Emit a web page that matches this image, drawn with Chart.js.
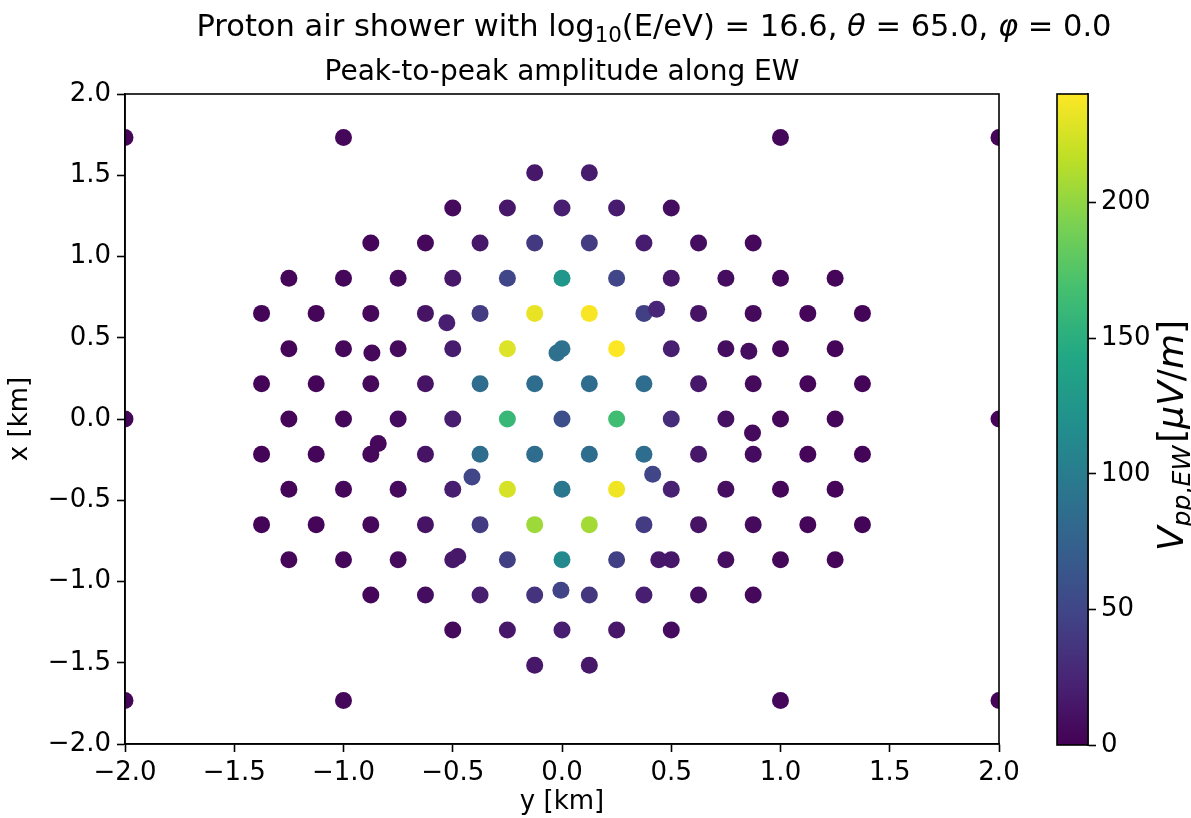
<!DOCTYPE html>
<html>
<head>
<meta charset="utf-8">
<script src="https://cdn.jsdelivr.net/npm/chart.js@4.4.1/dist/chart.umd.min.js"></script>
<style>
  html, body { margin: 0; padding: 0; background: #fff; }
  #wrap { position: relative; width: 1191px; height: 818px; }
  #wrap canvas { position: absolute; top: 0; }
</style>
</head>
<body>
<div id="wrap">
  <canvas id="showerChart" width="1191" height="818" style="left:0"></canvas>
  <canvas id="colorBar" width="151" height="818" style="left:1040px"></canvas>
</div>
<script>
// star-shaped hexagonal layout: one entry per row of antennas (x in km)
var rowX = [1.732, 1.516, 1.299, 1.083, 0.866, 0.650, 0.433, 0.217, 0,
            -0.217, -0.433, -0.650, -0.866, -1.083, -1.299, -1.516, -1.732];
// y positions (km) of the antennas in each row
var rowY = [
  [-2, -1, 1, 2],
  [-0.125, 0.125],
  [-0.5, -0.25, 0, 0.25, 0.5],
  [-0.875, -0.625, -0.375, -0.125, 0.125, 0.375, 0.625, 0.875],
  [-1.25, -1, -0.75, -0.5, -0.25, 0, 0.25, 0.5, 0.75, 1, 1.25],
  [-1.375, -1.125, -0.875, -0.625, -0.375, -0.125, 0.125, 0.375, 0.625, 0.875, 1.125, 1.375],
  [-1.25, -1, -0.75, -0.5, -0.25, 0, 0.25, 0.5, 0.75, 1, 1.25],
  [-1.375, -1.125, -0.875, -0.625, -0.375, -0.125, 0.125, 0.375, 0.625, 0.875, 1.125, 1.375],
  [-2, -1.25, -1, -0.75, -0.5, -0.25, 0, 0.25, 0.5, 0.75, 1, 1.25, 2],
  [-1.375, -1.125, -0.875, -0.625, -0.375, -0.125, 0.125, 0.375, 0.625, 0.875, 1.125, 1.375],
  [-1.25, -1, -0.75, -0.5, -0.25, 0, 0.25, 0.5, 0.75, 1, 1.25],
  [-1.375, -1.125, -0.875, -0.625, -0.375, -0.125, 0.125, 0.375, 0.625, 0.875, 1.125, 1.375],
  [-1.25, -1, -0.75, -0.5, -0.25, 0, 0.25, 0.5, 0.75, 1, 1.25],
  [-0.875, -0.625, -0.375, -0.125, 0.125, 0.375, 0.625, 0.875],
  [-0.5, -0.25, 0, 0.25, 0.5],
  [-0.125, 0.125],
  [-2, -1, 1, 2]
];
// peak-to-peak amplitude along EW (uV/m), same layout as rowY
var rowVpp = [
  [3, 4, 4, 3],
  [15, 18],
  [6, 15, 20, 18, 8],
  [3, 5, 15, 40, 42, 18, 8, 5],
  [3, 4, 6, 15, 50, 125, 50, 15, 8, 4, 3],
  [2, 3, 5, 12, 42, 232, 238, 45, 12, 6, 3, 2],
  [3, 4, 6, 18, 228, 90, 240, 20, 8, 4, 3],
  [2, 3, 5, 12, 85, 85, 85, 85, 15, 6, 3, 2],
  [3, 3, 4, 7, 20, 160, 58, 165, 30, 10, 4, 3, 3],
  [2, 3, 5, 12, 85, 85, 85, 85, 15, 7, 3, 2],
  [3, 4, 6, 20, 225, 95, 235, 22, 9, 4, 3],
  [2, 3, 5, 12, 42, 205, 207, 42, 12, 6, 3, 2],
  [3, 4, 6, 15, 45, 112, 45, 15, 9, 4, 3],
  [3, 8, 20, 35, 38, 20, 8, 5],
  [6, 15, 20, 15, 7],
  [15, 15],
  [3, 4, 4, 3]
];
// antennas off the regular grid
var extraY = [-0.527, -0.870, -0.023, 0.433, 0.855, -0.841, -0.412, 0.415, -0.477, 0.443, -0.005, 0.872];
var extraX = [0.592, 0.406, 0.406, 0.675, 0.417, -0.151, -0.357, -0.340, -0.846, -0.866, -1.054, -0.086];
var extraVpp = [20, 5, 88, 25, 8, 5, 50, 50, 15, 15, 48, 6];

var axisTicks = [-2, -1.5, -1, -0.5, 0, 0.5, 1, 1.5, 2];
var cbarTicks = [0, 50, 100, 150, 200];
var cbarMin = 0, cbarMax = 240;

var viridis = ["#440154", "#482475", "#414487", "#355f8d", "#2a788e", "#21918c",
               "#22a884", "#44bf70", "#7ad151", "#bddf26", "#fde725"];

var FONT = '"DejaVu Sans"';
var TICK_SIZE = 26;

function hexRgb(h) {
  return [parseInt(h.substr(1, 2), 16), parseInt(h.substr(3, 2), 16), parseInt(h.substr(5, 2), 16)];
}
function viridisColor(v) {
  var t = (v - cbarMin) / (cbarMax - cbarMin);
  t = Math.max(0, Math.min(1, t)) * (viridis.length - 1);
  var i = Math.min(Math.floor(t), viridis.length - 2);
  var f = t - i;
  var a = hexRgb(viridis[i]), b = hexRgb(viridis[i + 1]);
  var c = a.map(function (x, k) { return Math.round(x + (b[k] - x) * f); });
  return "rgb(" + c.join(",") + ")";
}
function fmtTick(v) {
  var s = Math.abs(v).toFixed(1);
  return v < 0 ? "\u2212" + s : s;
}

// text made of runs (italic / subscript pieces), centred on (x, baseline y)
function drawRuns(ctx, runs, x, y, size, rotate) {
  function fontOf(r) {
    return (r.it ? "italic " : "") + (r.sub ? size * 0.7 : size) + "px " + FONT;
  }
  var total = 0;
  runs.forEach(function (r) {
    ctx.font = fontOf(r);
    r.w = ctx.measureText(r.t).width + (r.gap || 0) * size;
    total += r.w;
  });
  ctx.save();
  ctx.translate(x, y);
  if (rotate) ctx.rotate(-Math.PI / 2);
  ctx.fillStyle = "#000";
  ctx.textBaseline = "alphabetic";
  ctx.textAlign = "left";
  var cx = -total / 2;
  runs.forEach(function (r) {
    ctx.font = fontOf(r);
    ctx.fillText(r.t, cx, r.sub ? size * 0.2 : 0);
    cx += r.w;
  });
  ctx.restore();
}

var points = [], colors = [];
rowX.forEach(function (x, r) {
  rowY[r].forEach(function (y, k) {
    points.push({ x: y, y: x });
    colors.push(viridisColor(rowVpp[r][k]));
  });
});
extraY.forEach(function (y, k) {
  points.push({ x: y, y: extraX[k] });
  colors.push(viridisColor(extraVpp[k]));
});

var framePlugin = {
  id: "frame",
  afterDraw: function (chart) {
    var a = chart.chartArea, ctx = chart.ctx;
    ctx.save();
    ctx.strokeStyle = "#000";
    ctx.lineWidth = 1.6;
    ctx.strokeRect(a.left, a.top, a.right - a.left, a.bottom - a.top);
    ctx.restore();
  }
};

var titlePlugin = {
  id: "titles",
  afterDraw: function (chart) {
    var ctx = chart.ctx, a = chart.chartArea;
    drawRuns(ctx, [
      { t: "Proton air shower with log" },
      { t: "10", sub: true },
      { t: "(E/eV) = 16.6, " },
      { t: "\u03b8", it: true },
      { t: " = 65.0, " },
      { t: "\u03c6", it: true },
      { t: " = 0.0" }
    ], 654, 36, 30.5);
    drawRuns(ctx, [{ t: "Peak-to-peak amplitude along EW" }], (a.left + a.right) / 2, 80, 28);
  }
};

function axisOpts(label, size) {
  return {
    type: "linear",
    min: -2,
    max: 2,
    afterBuildTicks: function (s) { s.ticks = axisTicks.map(function (v) { return { value: v }; }); },
    ticks: {
      color: "#000",
      font: { family: FONT, size: TICK_SIZE },
      padding: 6,
      maxRotation: 0,
      callback: function (v) { return fmtTick(v); }
    },
    grid: { drawOnChartArea: false, drawTicks: true, tickLength: 8, tickWidth: 1.6, tickColor: "#000" },
    border: { display: true, color: "#000", width: 1.6 },
    title: { display: true, text: label, color: "#000", font: { family: FONT, size: TICK_SIZE }, padding: { top: 5, bottom: 0 } },
    afterFit: size
  };
}

new Chart("showerChart", {
  type: "scatter",
  data: {
    datasets: [{
      data: points,
      pointRadius: 8.5,
      pointHoverRadius: 8.5,
      pointBackgroundColor: colors,
      pointBorderWidth: 0,
      borderWidth: 0,
      clip: 0
    }]
  },
  options: {
    responsive: false,
    animation: false,
    events: [],
    layout: { padding: { top: 94, right: 192, left: 0, bottom: 0 } },
    plugins: { legend: { display: false }, tooltip: { enabled: false } },
    scales: {
      x: axisOpts("y [km]", function (s) { s.height = 74; }),
      y: axisOpts("x [km]", function (s) { s.width = 125; })
    }
  },
  plugins: [framePlugin, titlePlugin]
});

// colour bar: a y scale over an empty chart filled with the viridis ramp
var gradientPlugin = {
  id: "ramp",
  beforeDatasetsDraw: function (chart) {
    var a = chart.chartArea, ctx = chart.ctx, ys = chart.scales.y;
    var g = ctx.createLinearGradient(0, ys.getPixelForValue(cbarMin), 0, ys.getPixelForValue(cbarMax));
    viridis.forEach(function (c, i) { g.addColorStop(i / (viridis.length - 1), c); });
    ctx.save();
    ctx.fillStyle = g;
    ctx.fillRect(a.left, a.top, a.right - a.left, a.bottom - a.top);
    ctx.restore();
  }
};
var cbarLabelPlugin = {
  id: "cbarLabel",
  afterDraw: function (chart) {
    var a = chart.chartArea;
    drawRuns(chart.ctx, [
      { t: "V", it: true },
      { t: "pp", it: true, sub: true },
      { t: ",", sub: true },
      { t: "EW", it: true, sub: true, gap: 0.08 },
      { t: "[" },
      { t: "\u03bc", it: true },
      { t: "V", it: true },
      { t: "/" },
      { t: "m", it: true },
      { t: "]" }
    ], 143, (a.top + a.bottom) / 2 + 16, 36, true);
  }
};

new Chart("colorBar", {
  type: "scatter",
  data: { datasets: [{ data: [] }] },
  options: {
    responsive: false,
    animation: false,
    events: [],
    layout: { padding: { top: 94, left: 17, right: 0, bottom: 73 } },
    plugins: { legend: { display: false }, tooltip: { enabled: false } },
    scales: {
      x: { display: false, min: 0, max: 1 },
      y: {
        position: "right",
        min: cbarMin,
        max: cbarMax,
        afterBuildTicks: function (s) { s.ticks = cbarTicks.map(function (v) { return { value: v }; }); },
        ticks: { color: "#000", font: { family: FONT, size: TICK_SIZE }, padding: 5 },
        grid: { drawOnChartArea: false, drawTicks: true, tickLength: 8, tickWidth: 1.6, tickColor: "#000" },
        border: { display: true, color: "#000", width: 1.6 },
        afterFit: function (s) { s.width = 103; }
      }
    }
  },
  plugins: [gradientPlugin, framePlugin, cbarLabelPlugin]
});
</script>
</body>
</html>
